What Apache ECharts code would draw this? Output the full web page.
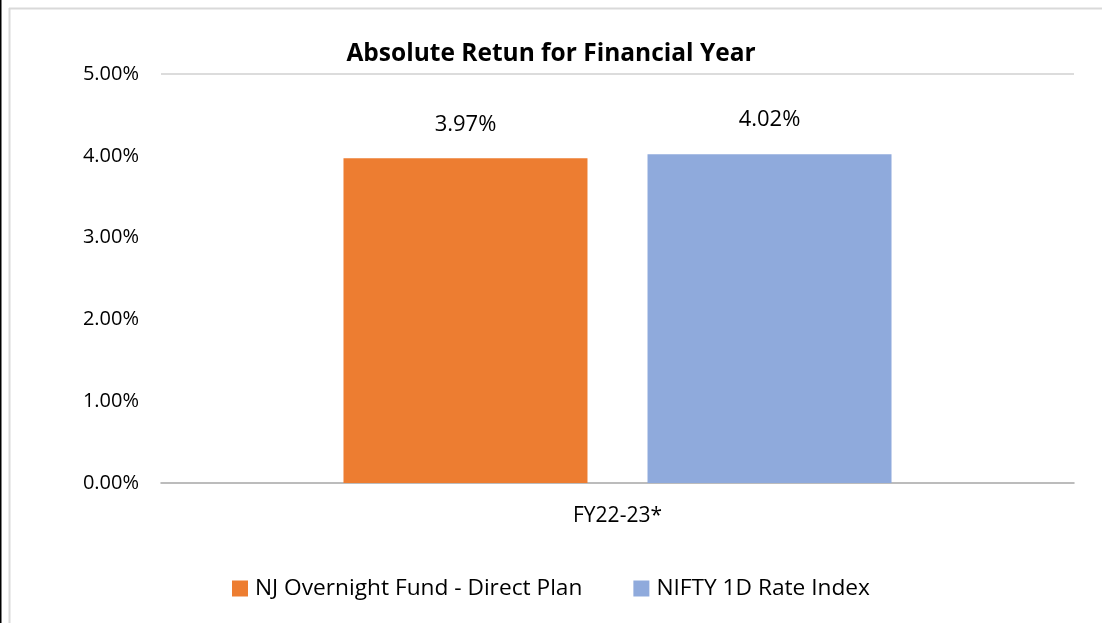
<!DOCTYPE html>
<html>
<head>
<meta charset="utf-8">
<script src="https://cdn.jsdelivr.net/npm/echarts@6/dist/echarts.min.js"></script>
<style>
  html, body { margin: 0; padding: 0; background: #fff; }
  #chart { width: 1102px; height: 623px; }
</style>
</head>
<body>
<div id="chart"></div>
<script>
// 数据
const categories = ['FY22-23*']
const seriesNames = ['NJ Overnight Fund - Direct Plan', 'NIFTY 1D Rate Index']
const fundValues = [3.97]
const indexValues = [4.02]
const colors = ['#ED7D31', '#8FAADC']

const font = 'Open Sans'
const chart = echarts.init(document.getElementById('chart'))

const pct = v => v.toFixed(2) + '%'

const option = {
  animation: false,
  title: {
    text: 'Absolute Retun for Financial Year',
    left: 'center',
    top: 37,
    textStyle: { fontFamily: font, fontWeight: 'bold', fontSize: 24.5, color: '#000' }
  },
  legend: {
    bottom: 18,
    left: 'center',
    itemWidth: 16,
    itemHeight: 16,
    itemGap: 51,
    icon: 'rect',
    textStyle: { fontFamily: font, fontSize: 22.7, color: '#000', padding: [0, 0, 0, 2] },
    data: seriesNames
  },
  grid: { left: 161, right: 28, top: 74, bottom: 140 },
  xAxis: {
    type: 'category',
    data: categories,
    axisLine: { lineStyle: { color: '#a6a6a6', width: 1.5 } },
    axisTick: { show: false },
    axisLabel: { fontFamily: font, fontSize: 21, color: '#000', margin: 23 }
  },
  yAxis: {
    type: 'value',
    min: 0,
    max: 5,
    interval: 1,
    axisLine: { show: false },
    axisTick: { show: false },
    axisLabel: {
      fontFamily: font, fontSize: 20, color: '#000', margin: 22,
      formatter: pct
    },
    // 只显示顶部那条网格线
    splitLine: {
      lineStyle: {
        color: ['transparent', 'transparent', 'transparent', 'transparent', 'transparent', '#d0d0d0'],
        width: 1.5
      }
    }
  },
  series: [
    {
      name: seriesNames[0],
      type: 'bar',
      data: fundValues,
      barWidth: 244,
      barGap: '24.6%',
      itemStyle: { color: colors[0] },
      label: {
        show: true, position: 'top', distance: 23,
        fontFamily: font, fontSize: 22, color: '#000',
        formatter: p => pct(p.value)
      }
    },
    {
      name: seriesNames[1],
      type: 'bar',
      data: indexValues,
      barWidth: 244,
      itemStyle: { color: colors[1] },
      label: {
        show: true, position: 'top', distance: 23,
        fontFamily: font, fontSize: 22, color: '#000',
        formatter: p => pct(p.value)
      }
    }
  ],
  // 外框
  graphic: [
    { type: 'line', shape: { x1: 0.5, y1: 0, x2: 0.5, y2: 623 }, style: { stroke: '#000', lineWidth: 2 } },
    { type: 'line', shape: { x1: 9.5, y1: 8, x2: 9.5, y2: 623 }, style: { stroke: '#d9d9d9', lineWidth: 2 } },
    { type: 'line', shape: { x1: 9, y1: 8.5, x2: 1102, y2: 8.5 }, style: { stroke: '#d9d9d9', lineWidth: 2 } }
  ]
}

chart.setOption(option)
</script>
</body>
</html>
